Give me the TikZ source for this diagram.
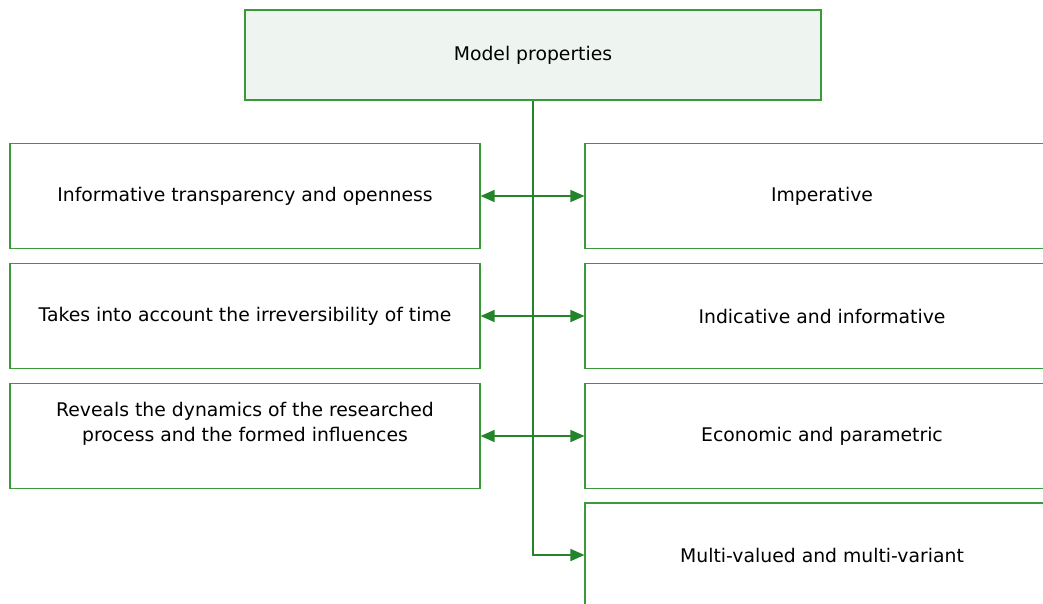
\documentclass[tikz,border=0pt]{standalone}
\usepackage{fontspec}
\setmainfont{DejaVu Sans}
\usetikzlibrary{arrows.meta}
\definecolor{boxline}{HTML}{3A9A3A}
\definecolor{linkline}{HTML}{24842A}
\definecolor{topfill}{HTML}{EEF5F0}
\tikzset{
  box/.style={draw=boxline, line width=1.1pt, rectangle, minimum width=470pt,
    minimum height=105pt, inner sep=0pt, align=center,
    font=\fontsize{18.8}{25}\selectfont},
  rbox/.style={box, minimum width=474pt},
  txt/.style={inner sep=0pt, align=center, font=\fontsize{18.8}{25}\selectfont},
  link/.style={draw=linkline, line width=1.5pt},
  tip/.style={-{Triangle[length=14pt,width=12pt]}},
  bothtip/.style={{Triangle[length=14pt,width=12pt]}-{Triangle[length=14pt,width=12pt]}}
}
\begin{document}
\begin{tikzpicture}[x=1pt,y=-1pt]
  \useasboundingbox (0,0) rectangle (1043,603);
  \clip (0,0) rectangle (1043,603);
  % heading box
  \node[box, fill=topfill, minimum width=576pt, minimum height=90pt] (top) at (533,55) {Model properties};
  % left column
  \node[box] (l1) at (245,196) {Informative transparency and openness};
  \node[box] (l2) at (245,316) {Takes into account the irreversibility of time};
  \node[box] (l3) at (245,436) {};
  \node[txt] (l3t) at (245,424) {Reveals the dynamics of the researched\\process and the formed influences};
  % right column
  \node[rbox] (r1) at (822,196) {Imperative};
  \node[rbox] (r2) at (822,316) {Indicative and informative};
  \node[rbox] (r3) at (822,436) {Economic and parametric};
  \node[rbox, minimum height=104pt] (r4) at (822,555) {Multi-valued and multi-variant};
  % trunk and branches
  \coordinate (bend) at (top.south |- r4.west);
  \draw[link, tip] (top.south) -- (bend) -- (r4.west);
  \draw[link, bothtip] (l1.east) -- (r1.west);
  \draw[link, bothtip] (l2.east) -- (r2.west);
  \draw[link, bothtip] (l3.east) -- (r3.west);
\end{tikzpicture}
\end{document}
